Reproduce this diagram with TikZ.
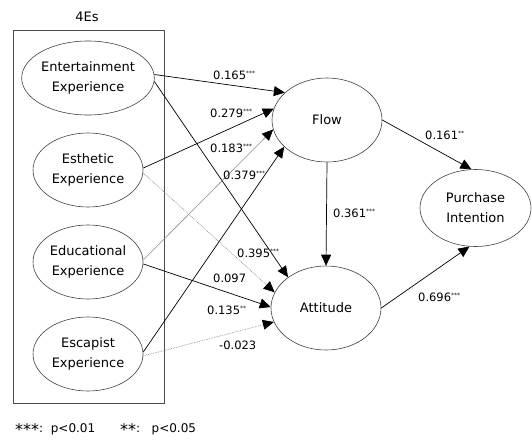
\documentclass[tikz,border=0pt]{standalone}
\usepackage{fontspec}
\setmainfont{DejaVu Sans}
\usepackage{xcolor}
\usetikzlibrary{arrows.meta,shapes.geometric}

\newcommand{\stars}[1]{\raisebox{3.5pt}{\fontsize{6}{6}\selectfont #1}}
\newcommand{\bigstars}[1]{\raisebox{-3pt}{\fontsize{16}{16}\selectfont #1}}

\begin{document}
\begin{tikzpicture}[x=1pt, y=-1pt,
    every node/.style={inner sep=0pt},
    latent/.style={ellipse, draw=black!75, line width=0.6pt, minimum width=110pt,
                   minimum height=74pt, align=center, font=\fontsize{13}{20}\selectfont},
    coef/.style={anchor=west, font=\fontsize{11.5}{12}\selectfont},
    link/.style={draw=black, line width=0.7pt, -{Triangle[length=11pt,width=10pt,color=black]}},
    grayline/.style={link, draw=black!45, line width=0.6pt},
    dotline/.style={link, draw=black!45, densely dotted, line width=0.7pt}]
    \useasboundingbox (0,0) rectangle (532,439);

   % 4Es group
    \draw[black!70, line width=0.6pt] (13,30) rectangle (164,403);
    \node (title) at (87,17) {\fontsize{13}{13}\selectfont 4Es};

    \node[latent] (ent) at (88,78) {Entertainment\\Experience};
    \node[latent] (est) at (88,170) {Esthetic\\Experience};
    \node[latent] (edu) at (88,262) {Educational\\Experience};
    \node[latent] (esc) at (88,354) {Escapist\\Experience};

    \node[latent, minimum height=84pt] (flow) at (327,120) {Flow};
    \node[latent, minimum height=84pt] (att) at (326,308) {Attitude};
    \node[latent, minimum width=111pt, minimum height=77pt] (pur) at (475.5,208) {Purchase\\Intention};

    \draw[link] (ent.3) -- (flow.147);
    \draw[link] (ent.-3) -- (att.141);
    \draw[link] (est.2) -- (flow.168);
    \draw[dotline] (est.-3) -- (att.163);
    \draw[grayline] (edu.2) -- (flow.190);
    \draw[link] (edu.-2) -- (att.179);
    \draw[link] (esc.2) -- (flow.212);
    \draw[dotline] (esc.-2) -- (att.195);
    \draw[link] (flow.south) -- (att.north);
    \draw[link] (flow.east) -- (pur.96);
    \draw[link] (att.east) -- (pur.261);

    % coefficients
    \node[coef] (c1) at (213,75) {0.165\stars{***}};
    \node[coef] (c2) at (210,113) {0.279\stars{***}};
    \node[coef] (c3) at (210,148) {0.183\stars{***}};
    \node[coef] (c4) at (223,175) {0.379\stars{***}};
    \node[coef] (c5) at (237,253) {0.395\stars{***}};
    \node[coef] (c6) at (213,278) {0.097};
    \node[coef] (c7) at (207,310) {0.135\stars{**}};
    \node[coef] (c8) at (219,345) {-0.023};
    \node[coef] (c9) at (333,213) {0.361\stars{***}};
    \node[coef] (c10) at (425,135) {0.161\stars{**}};
    \node[coef] (c11) at (418,297) {0.696\stars{***}};

    \node[coef, font=\fontsize{12}{12}\selectfont] (leg1) at (15,430) {\bigstars{***}:\ \ p<0.01};
    \node[coef, font=\fontsize{12}{12}\selectfont] (leg2) at (120,430) {\bigstars{**}:\ \ \ p<0.05};
\end{tikzpicture}
\end{document}
